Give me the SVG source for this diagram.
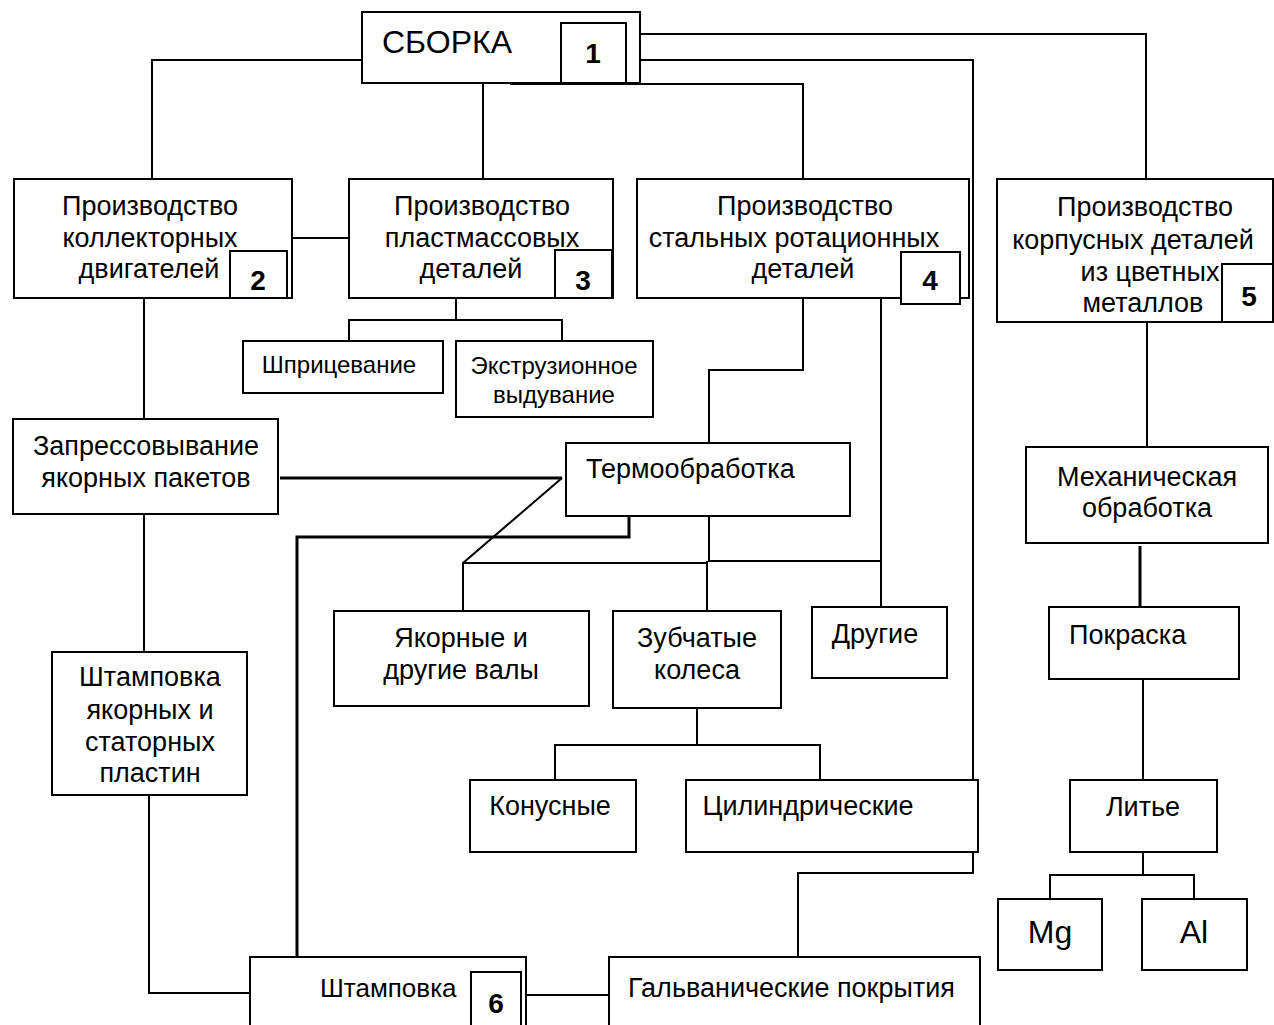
<svg xmlns="http://www.w3.org/2000/svg" width="1274" height="1025" viewBox="0 0 1274 1025">
<style>
.box{fill:#fff;stroke:#000;stroke-width:2}
.ln{fill:none;stroke:#000;stroke-width:2}
.thk{fill:none;stroke:#000;stroke-width:3}
text{font-family:"Liberation Sans",Arial,sans-serif;font-size:27px;fill:#000}
.c{text-anchor:middle}
.sm{font-size:24px}
.num{font-weight:bold;font-size:28px;text-anchor:middle}
</style>
<rect width="1274" height="1025" fill="#fff"/>
<g id="connectors">
<polyline class="ln" points="362,60 152,60 152,179"/>
<line class="ln" x1="483" y1="83" x2="483" y2="179"/>
<polyline class="ln" points="510,84 803,84 803,179"/>
<polyline class="ln" points="640,34 1146,34 1146,179"/>
<polyline class="ln" points="640,60 973,60 973,873 798,873 798,957"/>
<line class="ln" x1="292" y1="238" x2="349" y2="238"/>
<line class="ln" x1="144" y1="298" x2="144" y2="419"/>
<line class="ln" x1="144" y1="514" x2="144" y2="652"/>
<polyline class="ln" points="149,795 149,993 250,993"/>
<line class="ln" x1="456" y1="298" x2="456" y2="320"/>
<polyline class="ln" points="349,341 349,320 562,320 562,341"/>
<polyline class="ln" points="803,298 803,370 709,370 709,443"/>
<line class="ln" x1="881" y1="295" x2="881" y2="607"/>
<polyline class="ln" points="709,516 709,561 881,561"/>
<polyline class="ln" points="463,611 463,563 707,563"/>
<line class="ln" x1="707" y1="561" x2="707" y2="611"/>
<line class="ln" x1="562" y1="478" x2="463" y2="563"/>
<line class="thk" x1="280" y1="478" x2="562" y2="478"/>
<polyline class="thk" points="629,507 629,537 297,537 297,960"/>
<line class="ln" x1="697" y1="708" x2="697" y2="745"/>
<polyline class="ln" points="555,780 555,745 820,745 820,780"/>
<line class="ln" x1="526" y1="995" x2="609" y2="995"/>
<line class="ln" x1="1147" y1="322" x2="1147" y2="447"/>
<line class="thk" x1="1140" y1="546" x2="1140" y2="607"/>
<line class="ln" x1="1143" y1="679" x2="1143" y2="780"/>
<line class="ln" x1="1143" y1="852" x2="1143" y2="875"/>
<polyline class="ln" points="1050,899 1050,875 1194,875 1194,899"/>
</g>
<g id="n1">
<rect class="box" x="362" y="12" width="278" height="71"/>
<rect class="box" x="561" y="23" width="65" height="60"/>
<text x="382" y="53" style="font-size:32px">СБОРКА</text>
<text class="num" x="593" y="63">1</text>
</g>
<g id="n2">
<rect class="box" x="14" y="179" width="278" height="119"/>
<rect class="box" x="230" y="251" width="57" height="47"/>
<text class="c" x="150" y="215">Производство</text>
<text class="c" x="150" y="247">коллекторных</text>
<text class="c" x="149" y="278">двигателей</text>
<text class="num" x="258" y="290">2</text>
</g>
<g id="n3">
<rect class="box" x="349" y="179" width="264" height="119"/>
<rect class="box" x="555" y="250" width="57" height="48"/>
<text class="c" x="482" y="215">Производство</text>
<text class="c" x="482" y="247">пластмассовых</text>
<text class="c" x="471" y="278">деталей</text>
<text class="num" x="583" y="290">3</text>
</g>
<g id="n4">
<rect class="box" x="637" y="179" width="332" height="119"/>
<rect class="box" x="901" y="252" width="59" height="52"/>
<text class="c" x="805" y="215">Производство</text>
<text class="c" x="794" y="247">стальных ротационных</text>
<text class="c" x="803" y="278">деталей</text>
<text class="num" x="930" y="290">4</text>
</g>
<g id="n5">
<rect class="box" x="997" y="179" width="276" height="143"/>
<rect class="box" x="1222" y="264" width="51" height="58"/>
<text class="c" x="1145" y="216">Производство</text>
<text class="c" x="1133" y="249">корпусных деталей</text>
<text class="c" x="1150" y="281">из цветных</text>
<text class="c" x="1143" y="312">металлов</text>
<text class="num" x="1249" y="306">5</text>
</g>
<g id="n-shpric">
<rect class="box" x="243" y="341" width="200" height="52"/>
<text class="c sm" x="339" y="373">Шприцевание</text>
</g>
<g id="n-extr">
<rect class="box" x="456" y="341" width="197" height="76"/>
<text class="c sm" x="554" y="374">Экструзионное</text>
<text class="c sm" x="554" y="403">выдувание</text>
</g>
<g id="n-zapr">
<rect class="box" x="13" y="419" width="265" height="95"/>
<text class="c" x="146" y="455">Запрессовывание</text>
<text class="c" x="146" y="487">якорных пакетов</text>
</g>
<g id="n-termo">
<rect class="box" x="566" y="443" width="284" height="73"/>
<text x="586" y="478">Термообработка</text>
</g>
<g id="n-shtamp-ya">
<rect class="box" x="52" y="652" width="195" height="143"/>
<text class="c" x="150" y="686">Штамповка</text>
<text class="c" x="150" y="719">якорных и</text>
<text class="c" x="150" y="751">статорных</text>
<text class="c" x="150" y="782">пластин</text>
</g>
<g id="n-yakor">
<rect class="box" x="334" y="611" width="255" height="95"/>
<text class="c" x="461" y="647">Якорные и</text>
<text class="c" x="461" y="679">другие валы</text>
</g>
<g id="n-zub">
<rect class="box" x="613" y="611" width="168" height="97"/>
<text class="c" x="697" y="647">Зубчатые</text>
<text class="c" x="697" y="679">колеса</text>
</g>
<g id="n-drug">
<rect class="box" x="812" y="607" width="135" height="71"/>
<text class="c" x="875" y="643">Другие</text>
</g>
<g id="n-kon">
<rect class="box" x="470" y="780" width="166" height="72"/>
<text class="c" x="550" y="815">Конусные</text>
</g>
<g id="n-cil">
<rect class="box" x="686" y="780" width="292" height="72"/>
<text class="c" x="808" y="815">Цилиндрические</text>
</g>
<g id="n-mech">
<rect class="box" x="1026" y="447" width="242" height="96"/>
<text class="c" x="1147" y="486">Механическая</text>
<text class="c" x="1147" y="517">обработка</text>
</g>
<g id="n-pokr">
<rect class="box" x="1049" y="607" width="190" height="72"/>
<text x="1069" y="644">Покраска</text>
</g>
<g id="n-lit">
<rect class="box" x="1070" y="780" width="147" height="72"/>
<text class="c" x="1143" y="816">Литье</text>
</g>
<g id="n-mg">
<rect class="box" x="998" y="899" width="104" height="71"/>
<text class="c" x="1050" y="943" style="font-size:32px">Mg</text>
</g>
<g id="n-al">
<rect class="box" x="1142" y="899" width="105" height="71"/>
<text class="c" x="1194" y="943" style="font-size:32px">Al</text>
</g>
<g id="n6">
<rect class="box" x="250" y="957" width="276" height="80"/>
<rect class="box" x="471" y="972" width="50" height="65"/>
<text x="320" y="997" style="font-size:26px">Штамповка</text>
<text class="num" x="496" y="1013">6</text>
</g>
<g id="n-galv">
<rect class="box" x="609" y="957" width="371" height="80"/>
<text x="628" y="997">Гальванические покрытия</text>
</g>
</svg>
